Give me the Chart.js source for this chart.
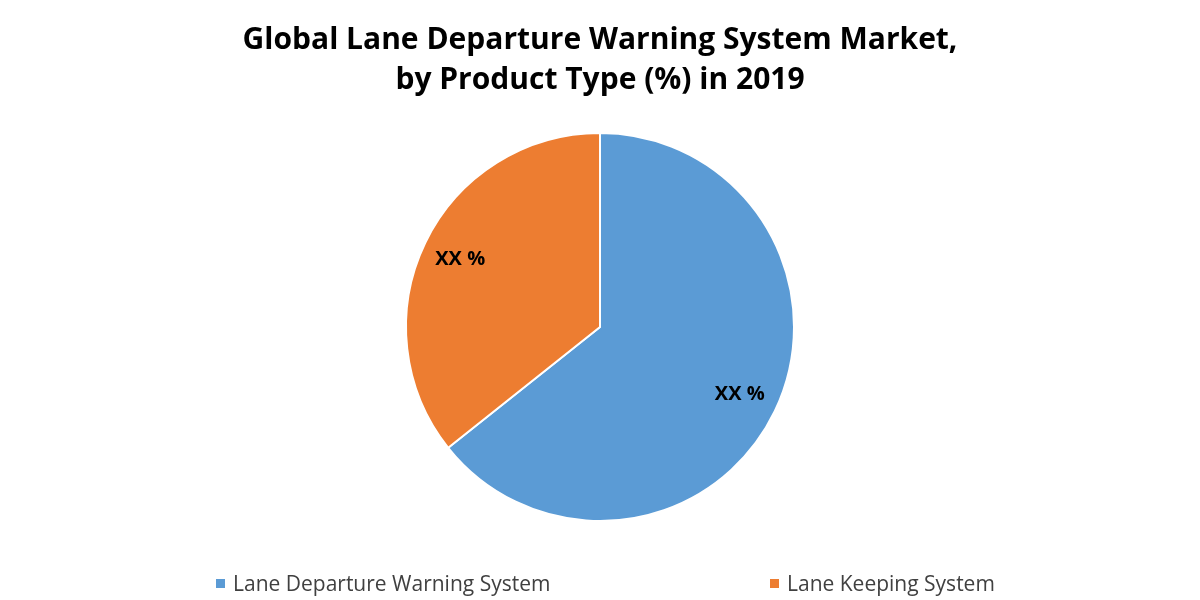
<!DOCTYPE html>
<html>
<head>
<meta charset="utf-8">
<script src="https://cdn.jsdelivr.net/npm/chart.js@4"></script>
<style>
  body { margin: 0; background: #fff; }
  #wrap { position: relative; width: 1200px; height: 600px; }
  #legend { position: absolute; top: 569px; left: 0; width: 1200px; font: 21px "Open Sans", sans-serif; color: #404040; }
  .item { position: absolute; white-space: nowrap; }
  .sw { display: inline-block; width: 9px; height: 9px; margin-right: 8px; vertical-align: 3px; }
</style>
</head>
<body>
<div id="wrap">
  <canvas id="pieChart" width="1200" height="600"></canvas>
  <div id="legend"></div>
</div>
<script>
const categories = ['Lane Departure Warning System', 'Lane Keeping System'];
const shares = [64.3, 35.7];
const sliceLabels = ['XX %', 'XX %'];
const colors = ['#5b9bd5', '#ed7d31'];
const legendLeft = [216, 770];

// etiquetas "XX %" dentro de cada porción
const sliceText = {
    id: 'sliceText',
    afterDatasetsDraw(chart) {
        const ctx = chart.ctx;
        const meta = chart.getDatasetMeta(0);
        ctx.save();
        ctx.font = 'bold 20px "Open Sans", sans-serif';
        ctx.fillStyle = '#000';
        ctx.textAlign = 'center';
        ctx.textBaseline = 'middle';
        meta.data.forEach((arc, i) => {
            const mid = (arc.startAngle + arc.endAngle) / 2;
            const r = arc.outerRadius * 0.8;
            ctx.fillText(sliceLabels[i], arc.x + Math.cos(mid) * r, arc.y + Math.sin(mid) * r);
        });
        ctx.restore();
    }
};

new Chart(document.getElementById('pieChart'), {
    type: 'pie',
    data: {
        labels: categories,
        datasets: [{
            data: shares,
            backgroundColor: colors,
            borderColor: '#fff',
            borderWidth: 2
        }]
    },
    options: {
        responsive: false,
        animation: false,
        layout: { padding: { top: 0, bottom: 78 } },
        plugins: {
            legend: { display: false },
            tooltip: { enabled: false },
            title: {
                display: true,
                text: ['Global Lane Departure Warning System Market,', 'by Product Type (%) in 2019'],
                color: '#000',
                font: { family: '"Open Sans", sans-serif', size: 30, weight: 'bold', lineHeight: 1.35 },
                padding: { top: 20, bottom: 31 }
            }
        }
    },
    plugins: [sliceText]
});

const legend = document.getElementById('legend');
categories.forEach((name, i) => {
    const el = document.createElement('span');
    el.className = 'item';
    el.style.left = legendLeft[i] + 'px';
    el.innerHTML = `<span class="sw" style="background:${colors[i]}"></span>${name}`;
    legend.appendChild(el);
});
</script>
</body>
</html>
